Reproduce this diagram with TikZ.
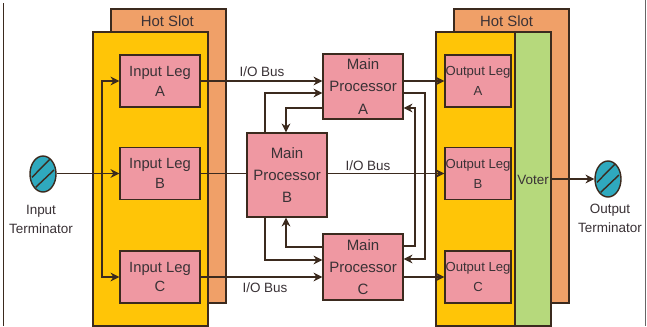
\documentclass[tikz,border=0pt]{standalone}
\usepackage{fontspec}
\setmainfont{Liberation Sans}
\usetikzlibrary{shapes.geometric,arrows.meta}
\definecolor{slotcol}{HTML}{F0A068}
\definecolor{cardcol}{HTML}{FFC507}
\definecolor{legcol}{HTML}{EF98A2}
\definecolor{votercol}{HTML}{B6D97C}
\definecolor{termcol}{HTML}{2FA9BE}
\definecolor{edgecol}{HTML}{3B2A1E}
\definecolor{txtcol}{HTML}{3A3236}

\begin{document}
\begin{tikzpicture}[
    panel/.style={draw=edgecol, line width=1pt, minimum width=3.45cm, minimum height=8.82cm, inner sep=0pt, fill=#1},
    leg/.style={draw=edgecol, line width=1.2pt, fill=legcol, align=center, text=txtcol, inner sep=0pt, font=\fontsize{12.6}{17}\selectfont, minimum width=2.4cm, minimum height=1.56cm},
    outleg/.style={leg, minimum width=1.98cm, font=\fontsize{11.2}{17}\selectfont},
    proc/.style={leg, font=\fontsize{12.8}{19}\selectfont, minimum height=#1},
    term/.style={ellipse, draw=edgecol, line width=1.2pt, fill=termcol, minimum width=0.78cm, minimum height=1.08cm, inner sep=0pt},
    lbl/.style={align=center, text=txtcol, inner sep=0pt, font=\fontsize{11.5}{16}\selectfont},
    arr/.style={-{Stealth[length=7.5pt,width=7.5pt]}, edgecol, line width=1.1pt},
    wire/.style={edgecol, line width=1.1pt}
]
\useasboundingbox (0, 0) rectangle (19.41, 9.78);
\fill[white] (0, 0) rectangle (19.41, 9.78);
\draw[edgecol, line width=0.9pt] (0.1, 9.68) -- (0.1, 0);
\draw[black!60, line width=0.9pt] (19.37, 9.78) -- (19.37, 0);

% slots and cards
\node[panel=slotcol] (slotL) at (5.055, 5.1) {};
\node[panel=cardcol] (cardL) at (4.515, 4.41) {};
\node[panel=slotcol] (slotR) at (15.345, 5.1) {};
\node[panel=cardcol, minimum width=2.37cm] (cardR) at (14.265, 4.41) {};
\node[panel=votercol, minimum width=1.08cm] (voter) at (15.99, 4.41) {};
\node[lbl, font=\fontsize{12.7}{14}\selectfont] (hotL) at (5.02, 9.15) {Hot Slot};
\node[lbl, font=\fontsize{12.7}{14}\selectfont] (hotR) at (15.2, 9.15) {Hot Slot};
\node[lbl] (voterTxt) at (15.99, 4.38) {Voter};

% legs
\node[leg] (inA) at (4.8, 7.35) {Input Leg\\A};
\node[leg] (inB) at (4.8, 4.575) {Input Leg\\B};
\node[leg] (inC) at (4.8, 1.47) {Input Leg\\C};
\node[outleg] (outA) at (14.34, 7.35) {Output Leg\\A};
\node[outleg] (outB) at (14.34, 4.575) {Output Leg\\B};
\node[outleg] (outC) at (14.34, 1.47) {Output Leg\\C};

% processors
\node[proc=1.95cm] (mainA) at (10.89, 7.185) {Main\\Processor\\A};
\node[proc=2.52cm] (mainB) at (8.61, 4.53) {Main\\Processor\\B};
\node[proc=1.98cm] (mainC) at (10.89, 1.77) {Main\\Processor\\C};

% terminators
\node[term] (termIn) at (1.29, 4.56) {};
\node[term] (termOut) at (18.24, 4.41) {};
\foreach \t in {termIn, termOut} {
    \draw[edgecol, line width=1.2pt] ([shift={(-0.33,-0.1)}]\t.center) -- ([shift={(0.2,0.44)}]\t.center);
    \draw[edgecol, line width=1.2pt] ([shift={(-0.22,-0.4)}]\t.center) -- ([shift={(0.33,0.12)}]\t.center);
}
\node[lbl] (txtIn) at (1.23, 3.2) {Input\\Terminator};
\node[lbl] (txtOut) at (18.3, 3.23) {Output\\Terminator};

% input side
\coordinate (busTop) at (3.06, 7.35);
\coordinate (busMid) at (3.06, 4.575);
\coordinate (busBot) at (3.06, 1.47);
\draw[arr] (termIn.east |- inB) -- (inB);
\draw[arr] (busMid) -- (busTop) -- (inA);
\draw[arr] (busMid) -- (busBot) -- (inC);

% I/O buses
\draw[arr] (inA) -- (mainA.west |- inA);
\draw[wire] (inB) -- (mainB.west |- inB);
\draw[arr] (inC) -- (mainC.west |- inC);
\draw[arr] (mainA.east |- outA) -- (outA.west);
\draw[arr] (mainB.east |- outB) -- (outB.west);
\draw[arr] (mainC.east |- outC) -- (outC.west);
\draw[arr] (voter.east |- termOut) -- (termOut);
\node[lbl] (busA) at (7.86, 7.62) {I/O Bus};
\node[lbl] (busB) at (11.04, 4.8) {I/O Bus};
\node[lbl] (busC) at (7.95, 1.14) {I/O Bus};

% cross links between processors
\coordinate (linkAB) at (7.95, 6.99);
\coordinate (linkBA) at (8.58, 6.54);
\coordinate (linkBC) at (7.95, 1.98);
\coordinate (linkCB) at (8.58, 2.37);
\coordinate (linkAC) at (12.75, 6.99);
\coordinate (linkCA) at (12.45, 2.4);
\draw[arr] (linkAB |- mainB.north) -- (linkAB) -- (mainA.west |- linkAB);
\draw[arr] (mainA.west |- linkBA) -- (linkBA) -- (linkBA |- mainB.north);
\draw[arr] (linkBC |- mainB.south) -- (linkBC) -- (mainC.west |- linkBC);
\draw[arr] (mainC.west |- linkCB) -- (linkCB) -- (linkCB |- mainB.south);
\draw[arr] (mainA.east |- linkAC) -- (linkAC) -- (12.75, 2.01) -- (mainC.east |- 0, 2.01);
\draw[arr] (mainC.east |- linkCA) -- (linkCA) -- (12.45, 6.54) -- (mainA.east |- 0, 6.54);
\end{tikzpicture}
\end{document}
